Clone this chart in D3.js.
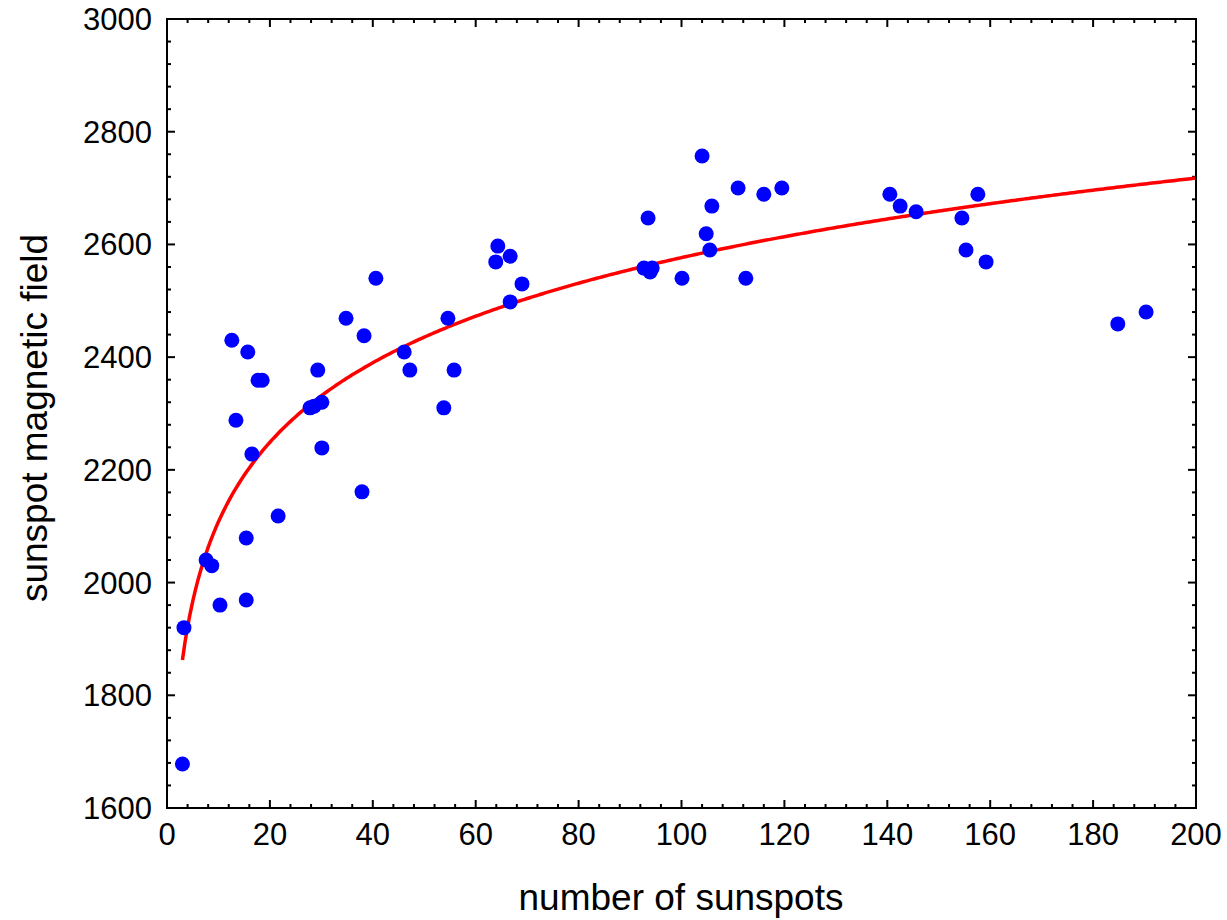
<!DOCTYPE html>
<html>
<head>
<meta charset="utf-8">
<script src="https://cdn.jsdelivr.net/npm/d3@7"></script>
<style>
  body { margin: 0; background: #fff; }
  text { font-family: "Liberation Sans", Arial, sans-serif; fill: #000; }
</style>
</head>
<body>
<svg width="1227" height="920"></svg>
<script>
// number of sunspots vs sunspot magnetic field
var sunspots = [3, 3.3, 7.6, 8.7, 10.3, 12.6, 13.4, 15.4, 15.4, 15.7, 16.5, 17.7, 18.5, 21.6,
  27.8, 28.6, 29.3, 30.1, 30.1, 34.8, 37.9, 38.3, 40.6, 46.1, 47.2, 53.8, 54.6, 55.8,
  63.9, 64.3, 66.7, 66.7, 69.0, 92.7, 93.5, 93.9, 94.3, 100.1, 104.0, 104.8, 105.5, 105.9,
  111.0, 112.5, 116.0, 119.5, 140.5, 142.5, 145.6, 154.5, 155.3, 157.6, 159.2, 184.8, 190.3];
var field = [1678, 1920, 2040, 2030, 1960, 2430, 2288, 1969, 2079, 2409, 2228, 2359, 2359, 2118,
  2310, 2313, 2377, 2320, 2239, 2469, 2161, 2438, 2540, 2409, 2377, 2310, 2469, 2377,
  2569, 2597, 2579, 2498, 2530, 2558, 2647, 2551, 2558, 2540, 2757, 2619, 2590, 2668,
  2700, 2540, 2689, 2700, 2689, 2668, 2658, 2647, 2590, 2689, 2569, 2459, 2480];

// fitted curve: field = fitA + fitB * ln(sunspots)
var fitA = 1639;
var fitB = 203.6;
var fitRange = [3, 200];

var xTicks = [0, 20, 40, 60, 80, 100, 120, 140, 160, 180, 200];
var yTicks = [1600, 1800, 2000, 2200, 2400, 2600, 2800, 3000];

var svg = d3.select("svg");
var pl = 167, pr = 1196, pt = 19, pb = 808;

var x = d3.scaleLinear().domain([0, 200]).range([pl, pr]);
var y = d3.scaleLinear().domain([1600, 3000]).range([pb, pt]);

var frame = svg.append("g");

// minor ticks
var xMinor = d3.range(0, 201, 4).filter(v => v % 20 != 0);
var yMinor = d3.range(1600, 3001, 40).filter(v => v % 200 != 0);

function tickLines(vals, len, axis) {
  vals.forEach(v => {
    if (axis == "x") {
      frame.append("line").attr("x1", x(v)).attr("x2", x(v)).attr("y1", pb).attr("y2", pb - len);
      frame.append("line").attr("x1", x(v)).attr("x2", x(v)).attr("y1", pt).attr("y2", pt + len);
    } else {
      frame.append("line").attr("y1", y(v)).attr("y2", y(v)).attr("x1", pl).attr("x2", pl + len);
      frame.append("line").attr("y1", y(v)).attr("y2", y(v)).attr("x1", pr).attr("x2", pr - len);
    }
  });
}
tickLines(xMinor, 4, "x");
tickLines(yMinor, 4, "y");
tickLines(xTicks, 8, "x");
tickLines(yTicks, 8, "y");
frame.selectAll("line").attr("stroke", "#000").attr("stroke-width", 2);

// tick labels
svg.selectAll(".xl").data(xTicks).enter().append("text")
  .attr("x", d => x(d)).attr("y", 845)
  .attr("text-anchor", "middle").attr("font-size", 31)
  .text(d => d);
svg.selectAll(".yl").data(yTicks).enter().append("text")
  .attr("x", 152).attr("y", d => y(d) + 11)
  .attr("text-anchor", "end").attr("font-size", 31)
  .text(d => d);

// fit curve
var curveX = d3.range(fitRange[0], fitRange[1] + 0.01, 0.5);
var line = d3.line()
  .x(d => x(d))
  .y(d => y(fitA + fitB * Math.log(d)));
svg.append("path").datum(curveX)
  .attr("d", line)
  .attr("fill", "none").attr("stroke", "#ff0000").attr("stroke-width", 3.5);

// points
svg.selectAll("circle").data(sunspots).enter().append("circle")
  .attr("cx", d => x(d))
  .attr("cy", (d, i) => y(field[i]))
  .attr("r", 7.5)
  .attr("fill", "#0000ff");

// frame
svg.append("rect")
  .attr("x", pl).attr("y", pt)
  .attr("width", pr - pl).attr("height", pb - pt)
  .attr("fill", "none").attr("stroke", "#000").attr("stroke-width", 2);

// axis titles
svg.append("text")
  .attr("x", 681).attr("y", 910)
  .attr("text-anchor", "middle").attr("font-size", 37)
  .text("number of sunspots");
svg.append("text")
  .attr("transform", "translate(47,418) rotate(-90)")
  .attr("text-anchor", "middle").attr("font-size", 37)
  .text("sunspot magnetic field");
</script>
</body>
</html>
